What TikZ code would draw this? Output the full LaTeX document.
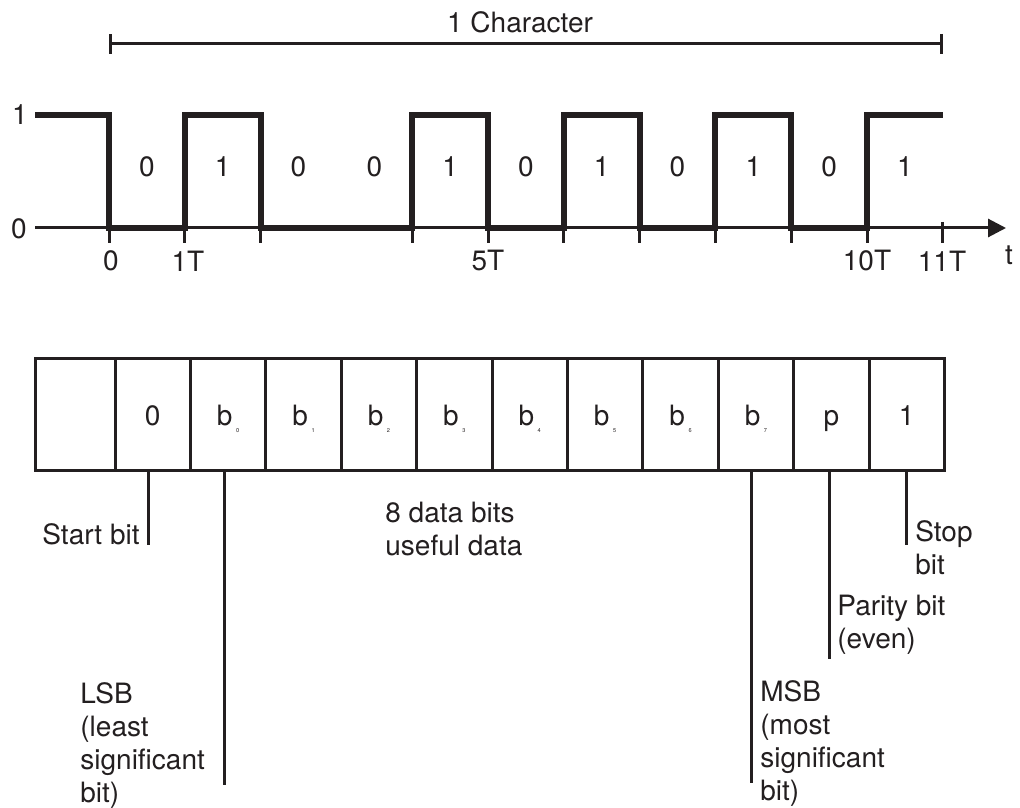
\documentclass[tikz,border=0pt]{standalone}
\usepackage{fontspec}
\setmainfont{TeX Gyre Heros}
\usepackage{tikz}
\usetikzlibrary{arrows.meta,positioning}
\definecolor{ink}{RGB}{35,31,32}
\newcommand{\bsub}[1]{b\hspace{1.8pt}\raisebox{-3.8pt}{\fontsize{2.8}{3}\selectfont #1}}

\begin{document}
\begin{tikzpicture}[
    x=0.5pt, y=-0.5pt,
    font=\fontsize{14}{16.5}\selectfont, color=ink,
    wave/.style={line width=3pt, line join=miter},
    axis/.style={line width=1.5pt, -{Triangle[length=9pt,width=9pt]}},
    tickmark/.style={line width=1.5pt},
    span/.style={line width=1.5pt, {Bar[width=10pt]}-{Bar[width=10pt]}},
    cell/.style={rectangle, draw, line width=1.5pt, minimum width=37.7pt, minimum height=56pt, text height=11pt, text depth=0pt, inner sep=0pt},
    lead/.style={line width=1.5pt},
    lbl/.style={inner sep=0pt, align=left}
]
    \useasboundingbox (0,0) rectangle (1020,807);

    % one character span
    \coordinate (spanA) at (109,44);
    \coordinate (spanB) at (943,44);
    \draw[span] (spanA) -- (spanB);
    \node (charlbl) at (520,22) {1 Character};

    % levels and time axis
    \node (lone) at (20,115) {1};
    \node (lzero) at (19,229) {0};
    \coordinate (axA) at (35,228);
    \coordinate (axB) at (1006,228);
    \draw[axis] (axA) -- (axB);
    \foreach \t in {0,1,2,4,5,6,7,8,9,10,11}
        \draw[tickmark] ({109+\t*75.8},222) -- ++(0,21);
    \node (t0) at (111,261) {0};
    \node (t1) at (188,261) {1T};
    \node (t5) at (488,261) {5T};
    \node (t10) at (867,261) {10T};
    \node (t11) at (942,261) {11T};
    \node (tt) at (1009,255) {t};

    % signal
    \draw[wave] (35,115) -- (109,115) -- (109,228) -- (184.8,228) -- (184.8,115)
        -- (260.6,115) -- (260.6,228) -- (412.2,228) -- (412.2,115) -- (488,115)
        -- (488,228) -- (563.8,228) -- (563.8,115) -- (639.6,115) -- (639.6,228)
        -- (715.4,228) -- (715.4,115) -- (791.2,115) -- (791.2,228) -- (867,228)
        -- (867,115) -- (942.8,115);
    \foreach \b [count=\i from 0] in {0,1,0,0,1,0,1,0,1,0,1}
        \node (bit\i) at ({109+(\i+0.5)*75.8},167) {\b};

    % frame
    \node[cell, minimum width=40pt] (c0) at (75,414) {};
    \foreach \txt [count=\i] in {0,\bsub{0},\bsub{1},\bsub{2},\bsub{3},\bsub{4},\bsub{5},\bsub{6},\bsub{7},p,1}
        \node[cell] (c\i) at ({115+(\i-0.5)*75.4},414) {\txt};

    % leaders
    \coordinate (startend) at ([xshift=-2pt]c1.south |- 0,545);
    \coordinate (lsbend) at ([xshift=-2pt]c2.south |- 0,785);
    \coordinate (msbend) at ([xshift=-2pt]c9.south |- 0,783);
    \coordinate (parend) at ([xshift=-1pt]c10.south |- 0,659);
    \coordinate (stopend) at (c11.south |- 0,545);
    \draw[lead] ([xshift=-2pt]c1.south) -- (startend);
    \draw[lead] ([xshift=-2pt]c2.south) -- (lsbend);
    \draw[lead] ([xshift=-2pt]c9.south) -- (msbend);
    \draw[lead] ([xshift=-1pt]c10.south) -- (parend);
    \draw[lead] (c11.south) -- (stopend);

    \node[lbl, anchor=north east] (startlbl) at (140,523) {Start bit};
    \node[lbl, anchor=north west] (datalbl) at (385,502) {8 data bits\\useful data};
    \node[lbl, anchor=north west] (lsblbl) at (80,682) {LSB\\(least\\significant\\bit)};
    \node[lbl, anchor=north west] (msblbl) at (760,680) {MSB\\(most\\significant\\bit)};
    \node[lbl, anchor=north west] (parlbl) at (837,595) {Parity bit\\(even)};
    \node[lbl, anchor=north west] (stoplbl) at (915,520) {Stop\\bit};
\end{tikzpicture}
\end{document}
